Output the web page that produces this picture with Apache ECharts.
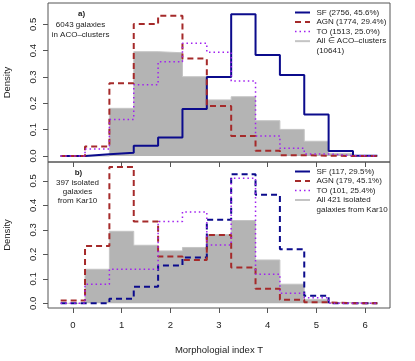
<!DOCTYPE html>
<html>
<head>
<meta charset="utf-8">
<script src="https://cdn.jsdelivr.net/npm/echarts@6/dist/echarts.min.js"></script>
<style>
html,body{margin:0;padding:0;background:#fff;}
#chart{width:415px;height:361px;}
</style>
</head>
<body>
<div id="chart"></div>
<script>
// Histogram bin edges (morphological index T)
const binEdges = [-0.25, 0.25, 0.75, 1.25, 1.75, 2.25, 2.75, 3.25, 3.75, 4.25, 4.75, 5.25, 5.75, 6.25];
const xTicks = [0, 1, 2, 3, 4, 5, 6];
const yTicks = [0, 0.1, 0.2, 0.3, 0.4, 0.5];

// Panel a) galaxies in ACO clusters
const sfA  = [0, 0.007, 0.012, 0.039, 0.070, 0.178, 0.300, 0.538, 0.384, 0.308, 0.158, 0.019, 0.001];
const agnA = [0, 0.036, 0.276, 0.501, 0.533, 0.370, 0.190, 0.076, 0.020, 0.003, 0.001, 0, 0];
const toA  = [0, 0.027, 0.139, 0.271, 0.358, 0.428, 0.394, 0.285, 0.076, 0.029, 0.008, 0.001, 0];
const allA = [0, 0, 0.181, 0.396, 0.392, 0.301, 0.213, 0.225, 0.134, 0.101, 0.056, 0.010, 0.001];

// Panel b) isolated galaxies from Kar10
const sfB  = [0, 0, 0.019, 0.068, 0.154, 0.187, 0.341, 0.527, 0.443, 0.221, 0.031, 0, 0];
const agnB = [0.011, 0.234, 0.557, 0.334, 0.191, 0.177, 0.279, 0.146, 0.059, 0.014, 0.004, 0, 0];
const toB  = [0, 0.078, 0.139, 0.139, 0.334, 0.373, 0.238, 0.511, 0.119, 0.041, 0.023, 0, 0];
const allB = [0, 0.139, 0.294, 0.237, 0.214, 0.228, 0.281, 0.338, 0.177, 0.078, 0.016, 0.003, 0];

const legendA = ['SF (2756, 45.6%)', 'AGN (1774, 29.4%)', 'TO (1513, 25.0%)', 'All \u2208 ACO\u2013clusters', '(10641)'];
const legendB = ['SF (117, 29.5%)', 'AGN (179, 45.1%)', 'TO (101, 25.4%)', 'All 421 isolated', 'galaxies from Kar10'];
const noteA = ['a)', '6043 galaxies', 'in ACO\u2013clusters'];
const noteB = ['b)', '397 isolated', 'galaxies', 'from Kar10'];

const FONT = '"Liberation Sans", Arial, Helvetica, sans-serif';
const C_SF = '#0b0b8c', C_AGN = '#a52a2a', C_TO = '#a020f0', C_ALL = '#b4b4b4', C_ALLLINE = '#c4c4c4';
const DASH = [6, 4], DOT = [1.5, 3];

function steps(vals) {
  return binEdges.map((e, i) => [e, vals[Math.min(i, vals.length - 1)]]);
}

function xAxisCfg(idx, showLabels) {
  return {
    type: 'value', gridIndex: idx, min: -0.51, max: 6.51, position: 'bottom',
    axisLine: {show: false, onZero: false},
    splitLine: {show: false},
    axisTick: {show: true, inside: false, length: 5, customValues: xTicks, lineStyle: {color: '#555', width: 1}},
    axisLabel: {show: showLabels, customValues: xTicks, margin: 12, fontSize: 9.5, color: '#222', fontFamily: FONT,
      formatter: v => String(v)},
    name: showLabels ? 'Morphologial index T' : '',
    nameLocation: 'middle', nameGap: 37,
    nameTextStyle: {fontSize: 9.5, color: '#222', fontFamily: FONT}
  };
}
function yAxisCfg(idx, min, max) {
  return {
    type: 'value', gridIndex: idx, min: min, max: max, position: 'left',
    axisLine: {show: false, onZero: false},
    splitLine: {show: false},
    axisTick: {show: true, inside: false, length: 5, customValues: yTicks, lineStyle: {color: '#555', width: 1}},
    axisLabel: {show: true, customValues: yTicks, rotate: 90, margin: 10, fontSize: 9.5, color: '#222', fontFamily: FONT,
      formatter: v => v.toFixed(1)},
    name: 'Density', nameLocation: 'middle', nameGap: 36,
    nameTextStyle: {fontSize: 9.5, color: '#222', fontFamily: FONT}
  };
}
function lineSeries(name, vals, gi, color, width, type, area) {
  const s = {
    name: name, type: 'line', step: 'end', xAxisIndex: gi, yAxisIndex: gi,
    data: steps(vals), symbol: 'none', showSymbol: false, clip: true, silent: true,
    lineStyle: {color: color, width: width, type: type},
    z: area ? 1 : 3
  };
  if (area) s.areaStyle = {color: C_ALL, opacity: 1};
  return s;
}

// legend + notes as graphic elements
const graphics = [];
function legendBlock(labels, topY, step, sfType) {
  const styles = [
    {stroke: C_SF, lineWidth: 2, lineDash: sfType},
    {stroke: C_AGN, lineWidth: 2, lineDash: DASH},
    {stroke: C_TO, lineWidth: 1.5, lineDash: DOT},
    {stroke: C_ALLLINE, lineWidth: 2, lineDash: null}
  ];
  labels.forEach((t, i) => {
    const y = topY + i * step;
    if (i < 4) {
      graphics.push({type: 'line', silent: true, shape: {x1: 295, y1: y, x2: 310, y2: y}, style: styles[i]});
    }
    graphics.push({type: 'text', silent: true, x: 316.5, y: y,
      style: {text: t, font: '8px ' + FONT, fill: '#222', align: 'left', verticalAlign: 'middle'}});
  });
}
legendBlock(legendA, 12.5, 9.55, null);
legendBlock(legendB, 171.5, 9.5, null);

function noteBlock(lines, cx, ys) {
  lines.forEach((t, i) => {
    graphics.push({type: 'text', silent: true, x: (i === 0 ? cx + 1 : cx), y: ys[i],
      style: {text: t, font: (i === 0 ? 'bold ' : '') + '8px ' + FONT, fill: '#222', align: 'center', verticalAlign: 'middle'}});
  });
}
noteBlock(noteA, 80.5, [14, 24.5, 35]);
noteBlock(noteB, 77.5, [172.5, 182.3, 191.5, 201]);

const chart = echarts.init(document.getElementById('chart'), null, {renderer: 'canvas'});
chart.setOption({
  animation: false,
  backgroundColor: '#fff',
  grid: [
    {left: 48, right: 25, top: 3, height: 159, show: true, borderColor: '#555', borderWidth: 1, backgroundColor: 'transparent', containLabel: false, outerBoundsMode: 'none'},
    {left: 48, right: 25, top: 162, height: 146, show: true, borderColor: '#555', borderWidth: 1, backgroundColor: 'transparent', containLabel: false, outerBoundsMode: 'none'}
  ],
  xAxis: [xAxisCfg(0, false), xAxisCfg(1, true)],
  yAxis: [yAxisCfg(0, -0.0228, 0.581), yAxisCfg(1, -0.0192, 0.577)],
  series: [
    lineSeries('All a', allA, 0, C_ALLLINE, 1, 'solid', true),
    lineSeries('SF a', sfA, 0, C_SF, 2, 'solid', false),
    lineSeries('AGN a', agnA, 0, C_AGN, 2, DASH, false),
    lineSeries('TO a', toA, 0, C_TO, 1.5, DOT, false),
    lineSeries('All b', allB, 1, C_ALLLINE, 1, 'solid', true),
    lineSeries('SF b', sfB, 1, C_SF, 2, DASH, false),
    lineSeries('AGN b', agnB, 1, C_AGN, 2, DASH, false),
    lineSeries('TO b', toB, 1, C_TO, 1.5, DOT, false)
  ],
  graphic: graphics
});
</script>
</body>
</html>
